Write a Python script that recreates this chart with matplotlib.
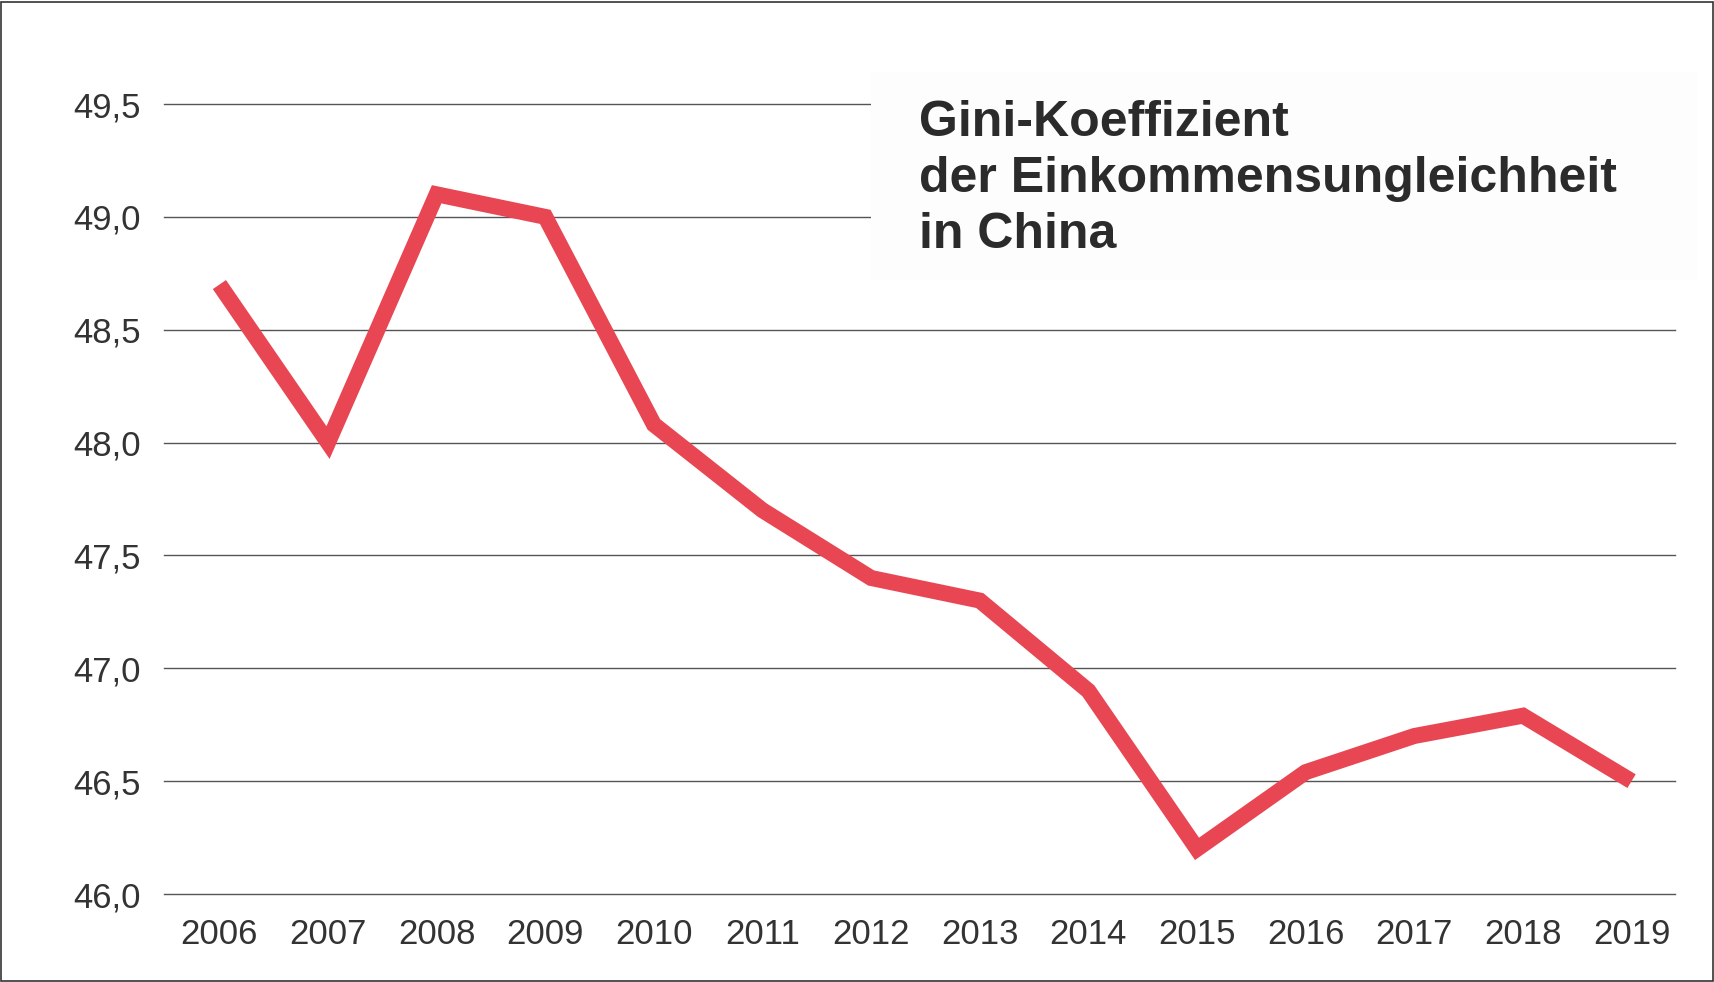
import numpy as np
import matplotlib
matplotlib.use("Agg")
import matplotlib.pyplot as plt
from matplotlib.patches import Rectangle

# data
years = [2006, 2007, 2008, 2009, 2010, 2011, 2012, 2013, 2014, 2015, 2016, 2017, 2018, 2019]
gini = [48.7, 48.0, 49.1, 49.0, 48.08, 47.7, 47.4, 47.3, 46.9, 46.2, 46.54, 46.7, 46.79, 46.5]
yticks = [46.0, 46.5, 47.0, 47.5, 48.0, 48.5, 49.0, 49.5]
title_lines = ["Gini-Koeffizient", "der Einkommensungleichheit", "in China"]

plt.rcParams['font.family'] = ['Liberation Sans', 'DejaVu Sans']

W, H = 1715, 982
fig = plt.figure(figsize=(W / 100, H / 100), dpi=100)
ax = fig.add_axes([164 / W, 1 - 894 / H, (1675 - 164) / W, (894 - 104) / H])

for v in yticks:
    ax.axhline(v, color='#555555', lw=1.0, zorder=1, clip_on=False)

ax.plot(years, gini, color='#e84653', lw=11.5, solid_joinstyle='miter',
        solid_capstyle='butt', zorder=3)

ax.set_xlim(2005.49, 2019.40)
ax.set_ylim(46.0, 49.5)
ax.set_xticks(years)
ax.set_yticks(yticks)
ax.set_yticklabels([f"{v:.1f}".replace('.', ',') for v in yticks])
ax.tick_params(length=0, labelsize=25, colors='#333333')
ax.tick_params(axis='y', pad=17)
ax.tick_params(axis='x', pad=17)
for s in ax.spines.values():
    s.set_visible(False)

# title box covering the top gridlines
fig.patches.append(Rectangle((871 / W, 1 - 280 / H), (1697 - 871) / W, (280 - 72) / H,
                             transform=fig.transFigure, facecolor='#fdfdfd',
                             edgecolor='none', zorder=5))
for i, t in enumerate(title_lines):
    fig.text(919 / W, 1 - (136 + 56 * i) / H, t, fontsize=36, fontweight='bold',
             color='#2b2b2b', ha='left', va='baseline', zorder=6)

# outer frame
fig.patches.append(Rectangle((1 / W, 1 / H), (W - 3) / W, (H - 3) / H,
                             transform=fig.transFigure, facecolor='none',
                             edgecolor='#333333', lw=1.2, zorder=10))

fig.savefig("out.png", dpi=100)
